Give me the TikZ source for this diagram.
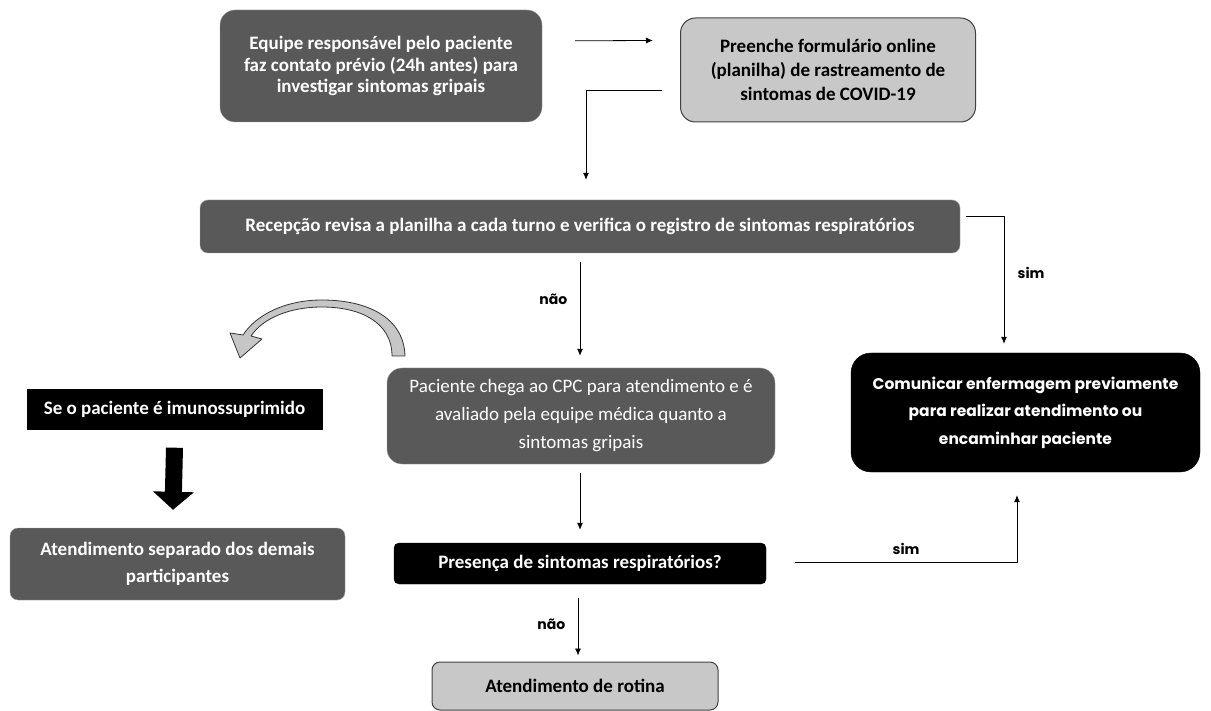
\documentclass[tikz,border=0pt]{standalone}
\usepackage{fontspec}
\setmainfont{Carlito}
\newfontfamily\geofont{Poppins}
\usetikzlibrary{arrows.meta,calc}

\definecolor{boxgray}{HTML}{595959}
\definecolor{lightgray}{HTML}{C8C8C8}
\definecolor{edgegray}{HTML}{404040}

\begin{document}
\begin{tikzpicture}[x=1pt, y=-1pt, line join=round,
  darkbox/.style={draw=gray!75, fill=boxgray, text=white, align=center, inner sep=0pt},
  lightbox/.style={draw=edgegray, line width=1pt, fill=lightgray, text=black, align=center, inner sep=0pt},
  blackbox/.style={draw=black, fill=black, text=white, align=center, inner sep=0pt},
  arr/.style={draw=black, line width=0.8pt, -{Latex[length=7pt,width=6pt]}},
  lbl/.style={font=\geofont\bfseries\fontsize{14}{16}\selectfont, text=black}]
\useasboundingbox (0,0) rectangle (1211,711);

% boxes
\node[darkbox, rounded corners=15pt, minimum width=322pt, minimum height=112pt,
  font=\bfseries\fontsize{19}{21.5}\selectfont] (equipe) at (381,66)
  {Equipe responsável pelo paciente\\faz contato prévio (24h antes) para\\investigar sintomas gripais};
\node[lightbox, rounded corners=15pt, minimum width=295pt, minimum height=104pt,
  font=\bfseries\fontsize{19}{24}\selectfont] (planilha) at (828,70)
  {Preenche formulário online\\(planilha) de rastreamento de\\sintomas de COVID-19};
\node[darkbox, rounded corners=8pt, minimum width=760pt, minimum height=53pt,
  font=\bfseries\fontsize{19}{21}\selectfont] (recepcao) at (580,226.5)
  {Recepção revisa a planilha a cada turno e verifica o registro de sintomas respiratórios};
\node[blackbox, rounded corners=20pt, minimum width=349pt, minimum height=119pt,
  font=\geofont\bfseries\fontsize{15.5}{27.5}\selectfont] (comunicar) at (1025.5,412.5)
  {Comunicar enfermagem previamente\\para realizar atendimento ou\\encaminhar paciente};
\node[darkbox, rounded corners=15pt, minimum width=388pt, minimum height=96pt,
  font=\fontsize{19}{28}\selectfont] (chega) at (581,416)
  {Paciente chega ao CPC para atendimento e é\\avaliado pela equipe médica quanto a\\sintomas gripais};
\node[blackbox, minimum width=295pt, minimum height=40pt,
  font=\bfseries\fontsize{19}{21}\selectfont] (imuno) at (174.5,409.5)
  {Se o paciente é imunossuprimido};
\node[darkbox, rounded corners=8pt, minimum width=335pt, minimum height=72pt,
  font=\bfseries\fontsize{19}{27}\selectfont] (separado) at (177.5,564)
  {Atendimento separado dos demais\\participantes};
\node[blackbox, rounded corners=5pt, minimum width=372pt, minimum height=41pt,
  font=\bfseries\fontsize{19}{21}\selectfont] (presenca) at (580,563.5)
  {Presença de sintomas respiratórios?};
\node[lightbox, rounded corners=8pt, minimum width=286pt, minimum height=48pt,
  font=\bfseries\fontsize{19}{21}\selectfont] (rotina) at (575,686)
  {Atendimento de rotina};

% connectors
\draw[arr] ([shift={(33,31)}]equipe.north east) -- ([shift={(-27,23)}]planilha.north west);
\draw[arr] ([shift={(-18,20)}]planilha.west) -| ([shift={(6,-20)}]recepcao.north);
\draw[arr] ([shift={(6,-10)}]recepcao.east) -| ([shift={(-21.5,-9)}]comunicar.north)
  node[lbl, pos=0.72, right=10pt] {sim};
\draw[arr] ([shift={(0,9)}]recepcao.south) -- ([shift={(-1,-12)}]chega.north)
  node[lbl, pos=0.4, left=9pt] {não};
\draw[arr] ([shift={(-1,9)}]chega.south) -- ([shift={(0,-13)}]presenca.north);
\draw[arr] ([shift={(29,-1.5)}]presenca.east) -| ([shift={(-8.5,23)}]comunicar.south)
  node[lbl, pos=0.25, above=4pt] {sim};
\draw[arr] ([shift={(-2,14)}]presenca.south) -- ([shift={(3,-6)}]rotina.north)
  node[lbl, pos=0.45, left=9pt] {não};
\draw[line width=17pt, -{Triangle[length=18pt,width=40pt]}] ([shift={(0,18)}]imuno.south) -- ([shift={(-4.5,-18)}]separado.north);

% curved block arrow
\filldraw[fill=gray!45, draw=gray!40!black, line width=0.8pt]
  (405,356) .. controls (404,318) and (368,300) .. (322,300)
  .. controls (285,300) and (256,315) .. (243,335)
  -- (230,333) -- (240,358) -- (262,339) -- (251,336)
  .. controls (263,318) and (290,307) .. (322,307)
  .. controls (360,307) and (392,322) .. (392,356) -- cycle;
\end{tikzpicture}
\end{document}
